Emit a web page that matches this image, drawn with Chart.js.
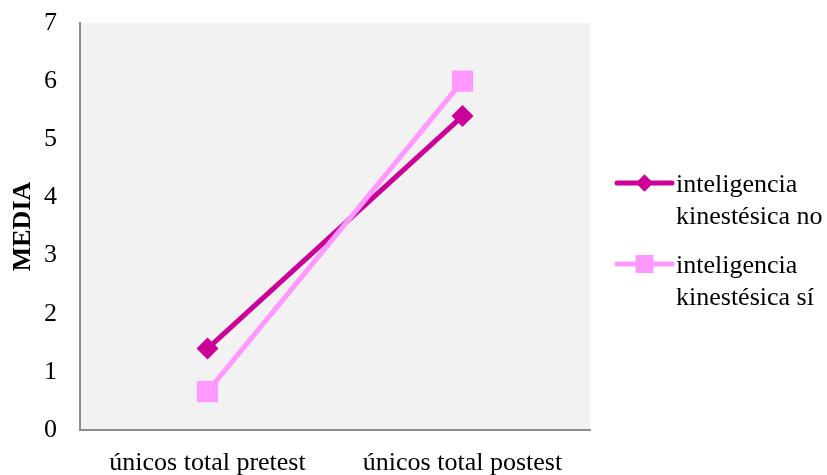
<!DOCTYPE html>
<html>
<head>
<meta charset="utf-8">
<script src="https://cdn.jsdelivr.net/npm/chart.js@4.4.1/dist/chart.umd.min.js"></script>
<style>
  html, body { margin: 0; padding: 0; background: #ffffff; }
  #wrap { width: 827px; height: 475px; position: relative; }
</style>
</head>
<body>
<div id="wrap"><canvas id="chart"></canvas></div>
<script>
// Categories on the x axis
const categories = ['únicos total pretest', 'únicos total postest'];

// Mean scores per group
const kinestesicaNo = [1.4, 5.4];
const kinestesicaSi = [0.66, 6.0];

// Series labels (two lines each in the legend)
const seriesLabels = [
  ['inteligencia', 'kinestésica no'],
  ['inteligencia', 'kinestésica sí']
];

// Y axis
const yTicks = [0, 1, 2, 3, 4, 5, 6, 7];
const yTitle = 'MEDIA';

const FONT = '"Liberation Serif", "Times New Roman", serif';
const DARK = '#CC0099';
const LIGHT = '#FF99FF';
const AXIS = '#8C8C8C';

// Gray plotting area
const plotBackground = {
  id: 'plotBackground',
  beforeDraw(chart) {
    const { ctx, chartArea: a } = chart;
    ctx.save();
    ctx.fillStyle = '#F2F2F2';
    ctx.fillRect(a.left, a.top, a.right - a.left, a.bottom - a.top);
    ctx.restore();
  }
};

// Legend drawn at the right with two-line labels
const sideLegend = {
  id: 'sideLegend',
  afterDraw(chart) {
    const ctx = chart.ctx;
    const x0 = 617, x1 = 672, textX = 676;
    const baseTops = [192, 273];
    const lineGap = 32;
    ctx.save();
    chart.data.datasets.forEach((ds, i) => {
      const base = baseTops[i];
      const ly = base - 9;
      ctx.strokeStyle = ds.borderColor;
      ctx.lineWidth = ds.borderWidth;
      ctx.lineCap = 'round';
      ctx.beginPath();
      ctx.moveTo(x0, ly);
      ctx.lineTo(x1, ly);
      ctx.stroke();
      const cx = (x0 + x1) / 2;
      ctx.fillStyle = ds.pointBackgroundColor;
      if (ds.pointStyle === 'rectRot') {
        Chart.helpers.drawPoint(ctx, { pointStyle: 'rectRot', radius: 8.5, borderWidth: 0 }, cx, ly);
        ctx.fill();
      } else {
        ctx.fillRect(cx - 9, ly - 9, 18, 18);
      }
      ctx.fillStyle = '#000000';
      ctx.font = '26px ' + FONT;
      ctx.textAlign = 'left';
      ctx.textBaseline = 'alphabetic';
      seriesLabels[i].forEach((t, k) => {
        ctx.fillText(t, textX, base + k * lineGap);
      });
    });
    ctx.restore();
  }
};

new Chart(document.getElementById('chart'), {
  type: 'line',
  data: {
    labels: categories,
    datasets: [
      {
        label: seriesLabels[0].join(' '),
        data: kinestesicaNo,
        borderColor: DARK,
        backgroundColor: DARK,
        pointBackgroundColor: DARK,
        pointBorderColor: DARK,
        pointBorderWidth: 0,
        borderWidth: 5,
        pointStyle: 'rectRot',
        pointRadius: 11,
        pointHoverRadius: 11,
        order: 1
      },
      {
        label: seriesLabels[1].join(' '),
        data: kinestesicaSi,
        borderColor: LIGHT,
        backgroundColor: LIGHT,
        pointBackgroundColor: LIGHT,
        pointBorderColor: LIGHT,
        pointBorderWidth: 0,
        borderWidth: 5,
        pointStyle: 'rect',
        pointRadius: 15,
        pointHoverRadius: 15,
        order: 0
      }
    ]
  },
  options: {
    responsive: true,
    maintainAspectRatio: false,
    animation: false,
    events: [],
    layout: { padding: { top: 23, right: 237, left: 0, bottom: 0 } },
    plugins: {
      legend: { display: false },
      tooltip: { enabled: false }
    },
    scales: {
      x: {
        type: 'category',
        offset: true,
        grid: { display: false, drawTicks: false },
        border: { display: true, color: AXIS, width: 2 },
        ticks: {
          color: '#000000',
          padding: 18,
          maxRotation: 0,
          font: { family: FONT, size: 26 }
        },
        afterFit(scale) {
          scale.height = 45;
          scale.paddingLeft = 0;
          scale.paddingRight = 0;
        }
      },
      y: {
        min: yTicks[0],
        max: yTicks[yTicks.length - 1],
        grid: { display: false, drawTicks: false },
        border: { display: true, color: AXIS, width: 2 },
        afterBuildTicks(scale) { scale.ticks = yTicks.map(v => ({ value: v })); },
        ticks: {
          color: '#000000',
          padding: 23,
          font: { family: FONT, size: 26 }
        },
        title: {
          display: true,
          text: yTitle,
          color: '#000000',
          padding: { top: 8, bottom: 0 },
          font: { family: FONT, size: 26, weight: 'bold' }
        },
        afterFit(scale) {
          scale.width = 80;
          scale.paddingTop = 0;
          scale.paddingBottom = 0;
        }
      }
    }
  },
  plugins: [plotBackground, sideLegend]
});
</script>
</body>
</html>
